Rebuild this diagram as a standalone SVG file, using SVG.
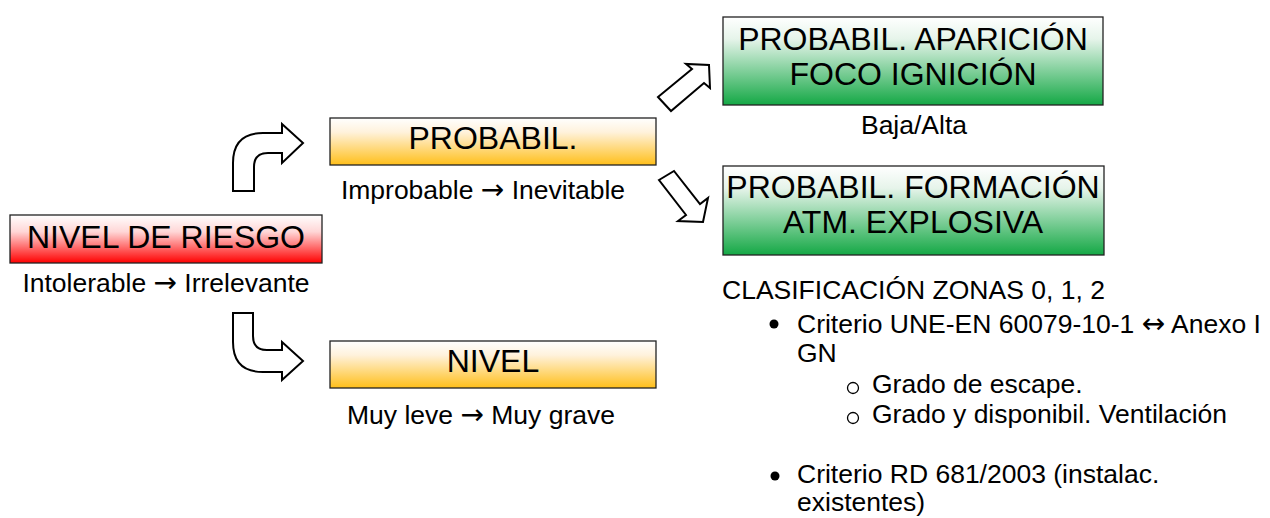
<svg xmlns="http://www.w3.org/2000/svg" width="1270" height="518" viewBox="0 0 1270 518">
<defs>
<linearGradient id="gRed" x1="0" y1="0" x2="0" y2="1"><stop offset="0" stop-color="#ffffff"/><stop offset="0.35" stop-color="#ffd6d6"/><stop offset="1" stop-color="#ff0000"/></linearGradient>
<linearGradient id="gOr" x1="0" y1="0" x2="0" y2="1"><stop offset="0" stop-color="#ffffff"/><stop offset="0.3" stop-color="#fff2dc"/><stop offset="1" stop-color="#ffbf1a"/></linearGradient>
<linearGradient id="gGr" x1="0" y1="0" x2="0" y2="1"><stop offset="0" stop-color="#ffffff"/><stop offset="0.25" stop-color="#e6f4ea"/><stop offset="1" stop-color="#14a845"/></linearGradient>
</defs>
<style>
.box{stroke:#222;stroke-width:1.3}
.t{font-family:"Liberation Sans",Arial,sans-serif;fill:#000}
.ti{font-size:32px;text-anchor:middle}
.s{font-size:26.5px}
.c{text-anchor:middle}
.ar{font-family:"DejaVu Sans",sans-serif;font-size:28px}
.arr{fill:#fff;stroke:#000;stroke-width:2;stroke-linejoin:miter}
</style>
<rect width="1270" height="518" fill="#fff"/>
<g id="connectors">
<path class="arr" d="M233,191 L233,163 Q233,133 263,133 L282,133 L282,124 L303,143 L282,163 L282,153 L268,153 Q254,153 254,167 L254,191 Z"/>
<path class="arr" d="M233,313 L253,313 L253,336 Q253,350 267,350 L282,350 L282,342 L303,361 L282,380 L282,372 L263,372 Q233,372 233,342 Z"/>
<path class="arr" d="M658,97 L692,69 L686,64 L709,65 L710,88 L704,83 L671,111 Z"/>
<path class="arr" d="M659,180 L674,171 L700,204 L708,198 L703,222 L678,221 L686,215 Z"/>
</g>
<g id="riesgo">
<rect class="box" x="10" y="215" width="312" height="48" fill="url(#gRed)"/>
<text class="t ti" x="166" y="248">NIVEL DE RIESGO</text>
<text class="t s c" x="166" y="292">Intolerable <tspan class="ar">→</tspan> Irrelevante</text>
</g>
<g id="probabil">
<rect class="box" x="330" y="118" width="326" height="47" fill="url(#gOr)"/>
<text class="t ti" x="493" y="149">PROBABIL.</text>
<text class="t s c" x="483" y="199">Improbable <tspan class="ar">→</tspan> Inevitable</text>
</g>
<g id="nivel">
<rect class="box" x="330" y="341" width="326" height="47" fill="url(#gOr)"/>
<text class="t ti" x="493" y="372">NIVEL</text>
<text class="t s c" x="481" y="424">Muy leve <tspan class="ar">→</tspan> Muy grave</text>
</g>
<g id="aparicion">
<rect class="box" x="723" y="17" width="380" height="88" fill="url(#gGr)"/>
<text class="t ti" x="913" y="50">PROBABIL. APARICIÓN</text>
<text class="t ti" x="913" y="85">FOCO IGNICIÓN</text>
<text class="t s c" x="914" y="134">Baja/Alta</text>
</g>
<g id="formacion">
<rect class="box" x="723" y="166" width="381" height="89" fill="url(#gGr)"/>
<text class="t ti" x="913" y="198">PROBABIL. FORMACIÓN</text>
<text class="t ti" x="913" y="233">ATM. EXPLOSIVA</text>
</g>
<g id="clasificacion">
<text class="t s" x="722" y="299">CLASIFICACIÓN ZONAS 0, 1, 2</text>
<circle cx="774" cy="324" r="4.5" fill="#000"/>
<text class="t s" x="797" y="333">Criterio UNE-EN 60079-10-1 <tspan class="ar">↔</tspan> Anexo I</text>
<text class="t s" x="797" y="362">GN</text>
<circle cx="853" cy="388" r="5.5" fill="none" stroke="#000" stroke-width="1.3"/>
<text class="t s" x="872" y="393">Grado de escape.</text>
<circle cx="853" cy="418" r="5.5" fill="none" stroke="#000" stroke-width="1.3"/>
<text class="t s" x="872" y="423">Grado y disponibil. Ventilación</text>
<circle cx="775" cy="476" r="4.5" fill="#000"/>
<text class="t s" x="797" y="483">Criterio RD 681/2003 (instalac.</text>
<text class="t s" x="797" y="511">existentes)</text>
</g>
</svg>
